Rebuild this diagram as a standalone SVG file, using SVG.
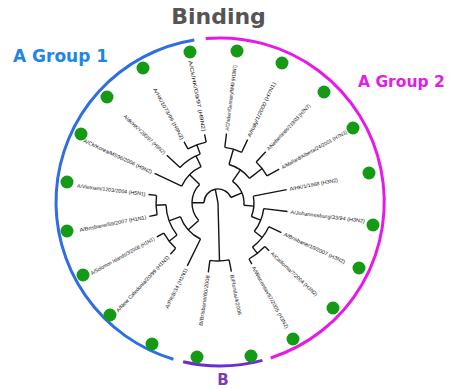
<svg xmlns="http://www.w3.org/2000/svg" width="452" height="389" viewBox="0 0 452 389">
  <style>
    .title { font-family: "DejaVu Sans", Verdana, sans-serif; font-weight: bold; }
    .br { fill: none; stroke: #151515; stroke-width: 1.4; stroke-linejoin: round; }
    .lbl { font-family: "Liberation Sans", Arial, sans-serif; font-size: 5.2px; fill: #111; }
    .dot { fill: #159a15; }
    .band { fill: none; stroke-width: 3; stroke-linecap: butt; }
  </style>

  <rect width="452" height="389" fill="#ffffff"/>

  <!-- headings -->
  <text class="title" x="218.5" y="24" font-size="22" fill="#555555" text-anchor="middle">Binding</text>
  <text class="title" x="13" y="62" font-size="17" fill="#1e86e6">A Group 1</text>
  <text class="title" x="358" y="87" font-size="15.5" fill="#e01ee4">A Group 2</text>
  <text class="title" x="223" y="385" font-size="15" fill="#7a3cb8" text-anchor="middle">B</text>

  <!-- outer group bands -->
  <g id="bands">
    <path class="band" stroke="#2f6de4" d="M173.4,359.2 A164,164 0 0 1 194.3,40.0"/>
    <path class="band" stroke="#e619e8" d="M205.7,38.6 A164,164 0 0 1 270.7,358.0"/>
    <path class="band" stroke="#6a2fcf" d="M262.4,360.4 A164,164 0 0 1 183.1,361.8"/>
  </g>

  <!-- tree branches -->
  <g id="connectors" class="br">
    <!-- root, A and B -->
    <path d="M218,203 L215.3,189.3 M204.0,202.8 A14,14 0 0 1 230.9,197.5"/>
    <path d="M218,203 L219.5,261.0 M229.1,259.9 A58,58 0 0 1 209.9,260.4 M229.1,259.9 L231.4,271.7 M209.9,260.4 L208.3,272.3"/>
    <!-- group 1 -->
    <path d="M204.0,202.8 L192.0,202.5 M198.7,220.4 A26,26 0 0 1 199.6,184.6"/>
    <path d="M198.7,220.4 L188.3,229.8 M200.5,239.0 A40,40 0 0 1 180.4,216.7 M200.5,239.0 L187.3,265.9"/>
    <path d="M180.4,216.7 L169.1,220.8 M177.0,235.0 A52,52 0 0 1 166.0,204.8"/>
    <path d="M177.0,235.0 L169.1,241.2 M175.7,248.3 A62,62 0 0 1 163.8,233.1 M175.7,248.3 L170.3,254.2 M163.8,233.1 L156.8,236.9"/>
    <path d="M166.0,204.8 L156.0,205.2 M157.1,214.8 A62,62 0 0 1 156.5,195.4 M157.1,214.8 L149.3,216.4 M156.5,195.4 L148.5,194.5"/>
    <path d="M199.6,184.6 L189.7,174.7 M181.7,186.1 A40,40 0 0 1 201.1,166.7 M181.7,186.1 L154.6,173.4"/>
    <path d="M201.1,166.7 L196.0,155.9 M180.0,167.5 A52,52 0 0 1 200.2,154.1 M180.0,167.5 L166.8,155.3"/>
    <path d="M200.2,154.1 L196.8,144.7 M187.9,148.8 A62,62 0 0 1 206.2,142.1 M187.9,148.8 L184.1,141.8 M206.2,142.1 L204.6,134.3"/>
    <!-- group 2 -->
    <path d="M230.9,197.5 L241.9,192.8 M232.5,181.4 A26,26 0 0 1 243.9,205.3"/>
    <path d="M232.5,181.4 L240.4,169.8 M229.0,164.5 A40,40 0 0 1 249.5,178.4"/>
    <path d="M229.0,164.5 L233.4,149.2 M224.8,147.4 A56,56 0 0 1 241.7,152.3 M224.8,147.4 L226.5,133.5 M241.7,152.3 L247.6,139.6"/>
    <path d="M249.5,178.4 L262.1,168.5 M256.2,162.0 A56,56 0 0 1 267.0,175.9 M256.2,162.0 L265.7,151.8 M267.0,175.9 L279.2,169.1"/>
    <path d="M243.9,205.3 L253.9,206.1 M253.3,196.1 A36,36 0 0 1 251.4,216.5 M253.3,196.1 L286.7,189.6"/>
    <path d="M251.4,216.5 L260.7,220.2 M263.7,208.6 A46,46 0 0 1 254.3,231.3 M263.7,208.6 L287.5,211.5"/>
    <path d="M254.3,231.3 L262.1,237.5 M268.8,226.7 A56,56 0 0 1 252.5,247.1 M268.8,226.7 L281.4,232.6"/>
    <path d="M252.5,247.1 L257.4,253.4 M264.8,246.6 A64,64 0 0 1 249.0,259.0 M264.8,246.6 L269.2,250.7 M249.0,259.0 L251.9,264.2"/>
  </g>

  <!-- leaves: strain label + marker -->
  <g id="leaf-g2-1"><text class="lbl" transform="translate(218 203) rotate(-83)" x="73" y="1.8" textLength="66" lengthAdjust="spacingAndGlyphs">A/Chicken/Germany/N/49 (H10N7)</text><circle class="dot" cx="237" cy="51" r="6.5"/></g>
  <g id="leaf-g2-2"><text class="lbl" transform="translate(218 203) rotate(-65)" x="73" y="1.8" textLength="60" lengthAdjust="spacingAndGlyphs">A/Italy/1/2000 (H7N1)</text><circle class="dot" cx="282" cy="63" r="6.5"/></g>
  <g id="leaf-g2-3"><text class="lbl" transform="translate(218 203) rotate(-47)" x="73" y="1.8" textLength="61" lengthAdjust="spacingAndGlyphs">A/Netherlands/219/03 (H7N7)</text><circle class="dot" cx="324" cy="92" r="6.5"/></g>
  <g id="leaf-g2-4"><text class="lbl" transform="translate(218 203) rotate(-29)" x="73" y="1.8" textLength="74" lengthAdjust="spacingAndGlyphs">A/Mallard/Alberta/24/2001 (H7N3)</text><circle class="dot" cx="353" cy="128" r="6.5"/></g>
  <g id="leaf-g2-5"><text class="lbl" transform="translate(218 203) rotate(-11)" x="73" y="1.8" textLength="49" lengthAdjust="spacingAndGlyphs">A/HK/1/1968 (H3N2)</text><circle class="dot" cx="369" cy="173" r="6.5"/></g>
  <g id="leaf-g2-6"><text class="lbl" transform="translate(218 203) rotate(7)" x="73" y="1.8" textLength="75" lengthAdjust="spacingAndGlyphs">A/Johannesburg/33/94 (H3N2)</text><circle class="dot" cx="373" cy="225" r="6.5"/></g>
  <g id="leaf-g2-7"><text class="lbl" transform="translate(218 203) rotate(25)" x="73" y="1.8" textLength="67" lengthAdjust="spacingAndGlyphs">A/Brisbane/10/2007 (H3N2)</text><circle class="dot" cx="359" cy="268" r="6.5"/></g>
  <g id="leaf-g2-8"><text class="lbl" transform="translate(218 203) rotate(43)" x="73" y="1.8" textLength="62" lengthAdjust="spacingAndGlyphs">A/California/7/2004 (H3N2)</text><circle class="dot" cx="333" cy="308" r="6.5"/></g>
  <g id="leaf-g2-9"><text class="lbl" transform="translate(218 203) rotate(61)" x="73" y="1.8" textLength="70" lengthAdjust="spacingAndGlyphs">A/Wisconsin/67/2005 (H3N2)</text><circle class="dot" cx="293" cy="339" r="6.5"/></g>
  <g id="leaf-b-1"><text class="lbl" transform="translate(218 203) rotate(79)" x="73" y="1.8" textLength="41" lengthAdjust="spacingAndGlyphs">B/Florida/4/2006</text><circle class="dot" cx="251" cy="356" r="6.5"/></g>
  <g id="leaf-b-2"><text class="lbl" transform="translate(218 203) rotate(-82)" x="-73" y="1.8" text-anchor="end" textLength="51" lengthAdjust="spacingAndGlyphs">B/Brisbane/60/2008</text><circle class="dot" cx="197" cy="357" r="6.5"/></g>
  <g id="leaf-g1-1"><text class="lbl" transform="translate(218 203) rotate(-64)" x="-73" y="1.8" text-anchor="end" textLength="44" lengthAdjust="spacingAndGlyphs">A/PR/8/34 (H1N1)</text><circle class="dot" cx="152" cy="344" r="6.5"/></g>
  <g id="leaf-g1-2"><text class="lbl" transform="translate(218 203) rotate(-47)" x="-73" y="1.8" text-anchor="end" textLength="75" lengthAdjust="spacingAndGlyphs">A/New Caledonia/20/99 (H1N1)</text><circle class="dot" cx="110" cy="315" r="6.5"/></g>
  <g id="leaf-g1-3"><text class="lbl" transform="translate(218 203) rotate(-29)" x="-73" y="1.8" text-anchor="end" textLength="72" lengthAdjust="spacingAndGlyphs">A/Solomon Islands/3/2006 (H1N1)</text><circle class="dot" cx="83" cy="275" r="6.5"/></g>
  <g id="leaf-g1-4"><text class="lbl" transform="translate(218 203) rotate(-11)" x="-73" y="1.8" text-anchor="end" textLength="68" lengthAdjust="spacingAndGlyphs">A/Brisbane/59/2007 (H1N1)</text><circle class="dot" cx="67" cy="231" r="6.5"/></g>
  <g id="leaf-g1-5"><text class="lbl" transform="translate(218 203) rotate(7)" x="-73" y="1.8" text-anchor="end" textLength="69" lengthAdjust="spacingAndGlyphs">A/Vietnam/1203/2004 (H5N1)</text><circle class="dot" cx="67" cy="182" r="6.5"/></g>
  <g id="leaf-g1-6"><text class="lbl" transform="translate(218 203) rotate(25)" x="-73" y="1.8" text-anchor="end" textLength="75" lengthAdjust="spacingAndGlyphs">A/Ck/Korea/MS96/2006 (H9N2)</text><circle class="dot" cx="81" cy="134" r="6.5"/></g>
  <g id="leaf-g1-7"><text class="lbl" transform="translate(218 203) rotate(43)" x="-73" y="1.8" text-anchor="end" textLength="55" lengthAdjust="spacingAndGlyphs">A/dk/HK/Y280/97 (H9N2)</text><circle class="dot" cx="107" cy="97" r="6.5"/></g>
  <g id="leaf-g1-8"><text class="lbl" transform="translate(218 203) rotate(61)" x="-73" y="1.8" text-anchor="end" textLength="58" lengthAdjust="spacingAndGlyphs">A/HK/1073/99 (H9N2)</text><circle class="dot" cx="143" cy="68" r="6.5"/></g>
  <g id="leaf-g1-9"><text class="lbl" transform="translate(218 203) rotate(79)" x="-73" y="1.8" text-anchor="end" textLength="72" lengthAdjust="spacingAndGlyphs">A/Ck/HK/G9/97 (H9N2)</text><circle class="dot" cx="190" cy="52" r="6.5"/></g>
</svg>
